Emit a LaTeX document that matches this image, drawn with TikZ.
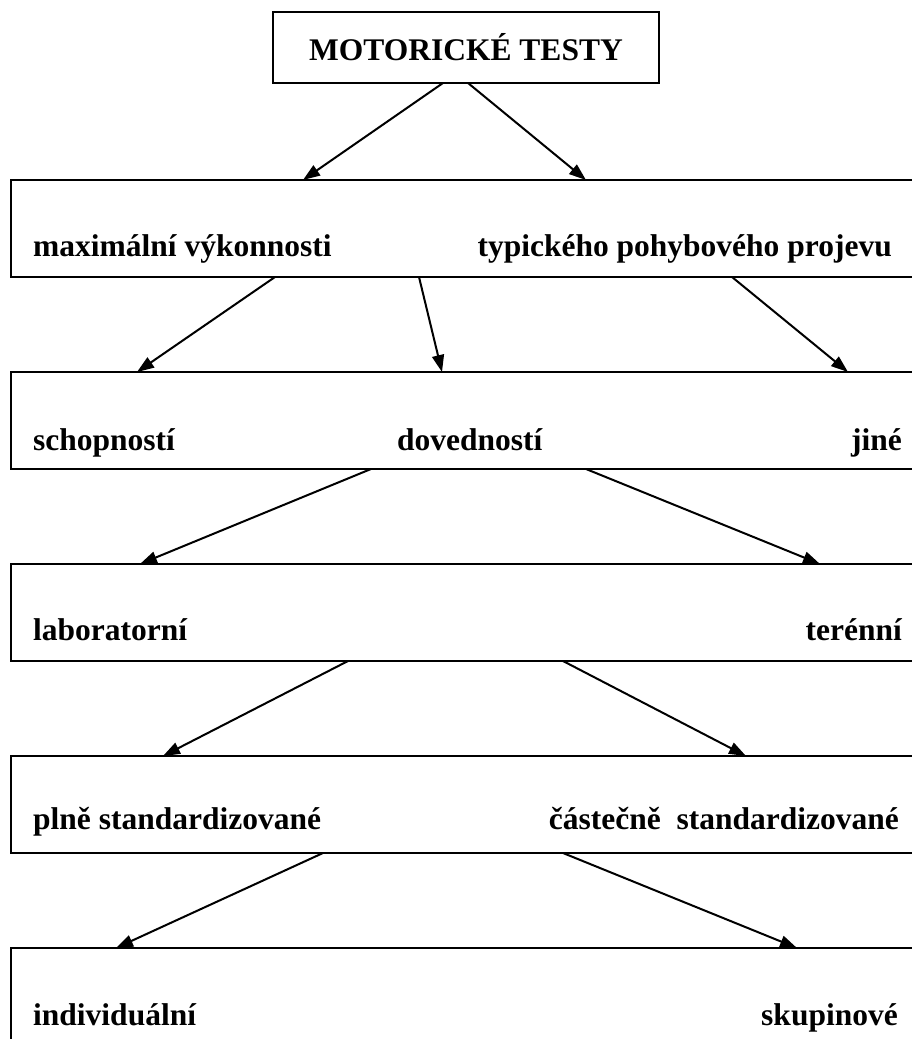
\documentclass[tikz,border=0pt]{standalone}
\usepackage{fontspec}
\setmainfont{Liberation Serif}
\usetikzlibrary{arrows.meta}
\begin{document}
\begin{tikzpicture}[x=1pt,y=-1pt,
  boxline/.style={line width=2pt},
  levelbox/.style={boxline,draw,rectangle,inner sep=0pt,outer sep=0pt,minimum width=919pt,minimum height=97pt,anchor=north west},
  titlebox/.style={boxline,draw,rectangle,inner sep=0pt,outer sep=0pt,minimum width=386pt,minimum height=71pt,anchor=north west},
  lbl/.style={inner sep=0pt,font=\fontsize{31.5}{36}\selectfont\bfseries},
  arr/.style={line width=2pt,-{Triangle[length=17pt,width=12pt]}}]
\useasboundingbox (0,0) rectangle (912,1039);
\clip (0,0) rectangle (912,1039);
\node[titlebox] (top) at (273,12) {};
\node[lbl] (toplbl) at (top.center) {MOTORICKÉ TESTY};
\node[levelbox] (b1) at (11,180) {};
\node[levelbox] (b2) at (11,372) {};
\node[levelbox] (b3) at (11,564) {};
\node[levelbox] (b4) at (11,756) {};
\node[levelbox] (b5) at (11,948) {};
% labels
\node[lbl,anchor=base west] (l1a) at (33,256) {maximální výkonnosti};
\node[lbl,anchor=base east] (l1b) at (892,256) {typického pohybového projevu};
\node[lbl,anchor=base west] (l2a) at (33,450) {schopností};
\node[lbl,anchor=base west] (l2b) at (397,450) {dovedností};
\node[lbl,anchor=base east] (l2c) at (902,450) {jiné};
\node[lbl,anchor=base west] (l3a) at (33,640) {laboratorní};
\node[lbl,anchor=base east] (l3b) at (902,640) {terénní};
\node[lbl,anchor=base west] (l4a) at (33,829) {plně standardizované};
\node[lbl,anchor=base east] (l4b) at (899,829) {částečně\ \ standardizované};
\node[lbl,anchor=base west] (l5a) at (33,1025) {individuální};
\node[lbl,anchor=base east] (l5b) at (898,1025) {skupinové};
% arrows
\draw[arr] ([xshift=170pt]top.south west) -- ([xshift=292pt]b1.north west);
\draw[arr] ([xshift=195pt]top.south west) -- ([xshift=575pt]b1.north west);
\draw[arr] ([xshift=264pt]b1.south west) -- ([xshift=126pt]b2.north west);
\draw[arr] ([xshift=408pt]b1.south west) -- ([xshift=431pt]b2.north west);
\draw[arr] ([xshift=721pt]b1.south west) -- ([xshift=837pt]b2.north west);
\draw[arr] ([xshift=360pt]b2.south west) -- ([xshift=129pt]b3.north west);
\draw[arr] ([xshift=575pt]b2.south west) -- ([xshift=809pt]b3.north west);
\draw[arr] ([xshift=337pt]b3.south west) -- ([xshift=152pt]b4.north west);
\draw[arr] ([xshift=552pt]b3.south west) -- ([xshift=735pt]b4.north west);
\draw[arr] ([xshift=312pt]b4.south west) -- ([xshift=105pt]b5.north west);
\draw[arr] ([xshift=552pt]b4.south west) -- ([xshift=786pt]b5.north west);
\end{tikzpicture}
\end{document}
